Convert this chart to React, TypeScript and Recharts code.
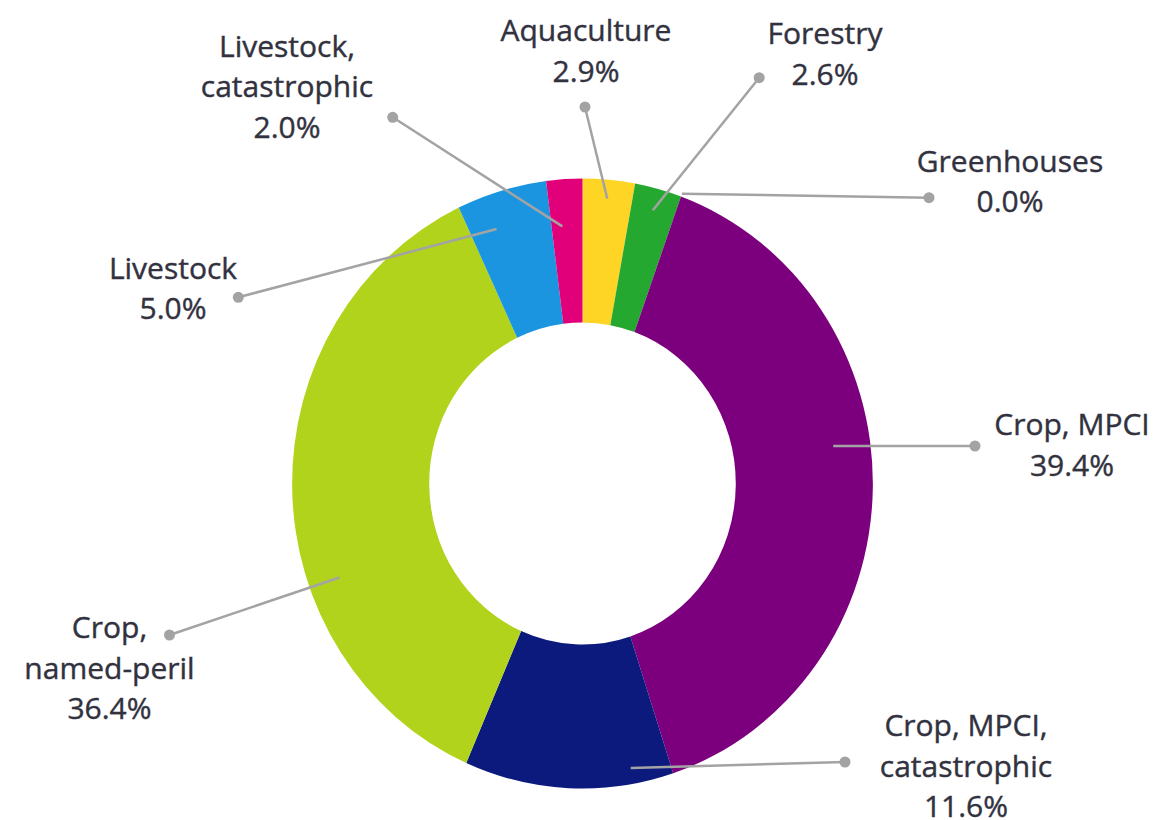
import { PieChart, Pie, Cell, Sector } from 'recharts';

// slices, clockwise from 12 o'clock
const categories = [
  'Aquaculture',
  'Forestry',
  'Greenhouses',
  'Crop, MPCI',
  'Crop, MPCI, catastrophic',
  'Crop, named-peril',
  'Livestock',
  'Livestock, catastrophic',
];
const shares = [2.9, 2.6, 0.0, 39.4, 11.6, 36.4, 5.0, 2.0];
const labelRows = [
  ['Aquaculture'],
  ['Forestry'],
  ['Greenhouses'],
  ['Crop, MPCI'],
  ['Crop, MPCI,', 'catastrophic'],
  ['Crop,', 'named-peril'],
  ['Livestock'],
  ['Livestock,', 'catastrophic'],
];
const colors = ['#fed524', '#24a830', '#8a8a8a', '#7c007e', '#0c1a7d', '#b1d31b', '#1b95e0', '#e2007a'];

// leader lines: angle shift from the slice middle (deg, clockwise), start radius,
// dot and label offsets from the pie centre
const leaders = [
  { shift: 0, r: 286, dot: [2.5, -376.5], text: [3.5, -442.5] },
  { shift: 0, r: 283, dot: [176.7, -405.8], text: [242.5, -439.2] },
  { shift: 0, r: 308, dot: [346.5, -285.8], text: [427.5, -311.8] },
  { shift: -8.9, r: 266, dot: [392.5, -37.5], text: [489.5, -48.5] },
  { shift: -12.8, r: 289, dot: [262.5, 278.5], text: [383.5, 252.5] },
  { shift: -19.4, r: 272, dot: [-413, 151.5], text: [-473, 154.5] },
  { shift: -3.3, r: 270, dot: [-344.2, -186.2], text: [-409.5, -205] },
  { shift: -1.1, r: 258, dot: [-189.8, -366.2], text: [-295.5, -426.8] },
];

const data = categories.map((name, i) => ({ name, value: shares[i] }));

const SQUISH = 0.952; // the original donut is slightly narrower than tall
const LINE_GAP = 40.5;
const GREY = '#a3a3a3';
const TEXT = '#32323f';

const squishedSector = (props: any) => (
  <g transform={`translate(${props.cx} 0) scale(${SQUISH} 1) translate(${-props.cx} 0)`}>
    <Sector {...props} />
  </g>
);

const renderLabel = (props: any) => {
  const { cx, cy, midAngle, index } = props;
  const lead = leaders[index];
  const rad = ((midAngle - lead.shift) * Math.PI) / 180;
  const x1 = cx + lead.r * Math.cos(rad) * SQUISH;
  const y1 = cy - lead.r * Math.sin(rad);
  const x2 = cx + lead.dot[0];
  const y2 = cy + lead.dot[1];
  const tx = cx + lead.text[0];
  const ty = cy + lead.text[1];
  const rows = [...labelRows[index], `${shares[index].toFixed(1)}%`];
  return (
    <g key={`label-${index}`}>
      <line x1={x1} y1={y1} x2={x2} y2={y2} stroke={GREY} strokeWidth={2.5} />
      <circle cx={x2} cy={y2} r={5.5} fill={GREY} />
      <text
        x={tx}
        y={ty}
        textAnchor="middle"
        fontSize={30}
        fontFamily="'Open Sans', sans-serif"
        fill={TEXT}
        stroke={TEXT}
        strokeWidth={0.4}
      >
        {rows.map((row, i) => (
          <tspan key={i} x={tx} y={ty + i * LINE_GAP}>
            {row}
          </tspan>
        ))}
      </text>
    </g>
  );
};

export default function App() {
  return (
    <div style={{ position: 'absolute', left: 0, top: 0, background: '#fff' }}>
      <PieChart width={1155} height={820}>
        <Pie
          data={data}
          dataKey="value"
          nameKey="name"
          cx={577.5}
          cy={478.5}
          innerRadius={161}
          outerRadius={305}
          startAngle={90}
          endAngle={-270}
          stroke="none"
          label={renderLabel}
          labelLine={false}
          shape={squishedSector}
          inactiveShape={squishedSector}
          activeShape={squishedSector}
          isAnimationActive={false}
        >
          {data.map((entry, i) => (
            <Cell key={entry.name} fill={colors[i]} />
          ))}
        </Pie>
      </PieChart>
    </div>
  );
}
